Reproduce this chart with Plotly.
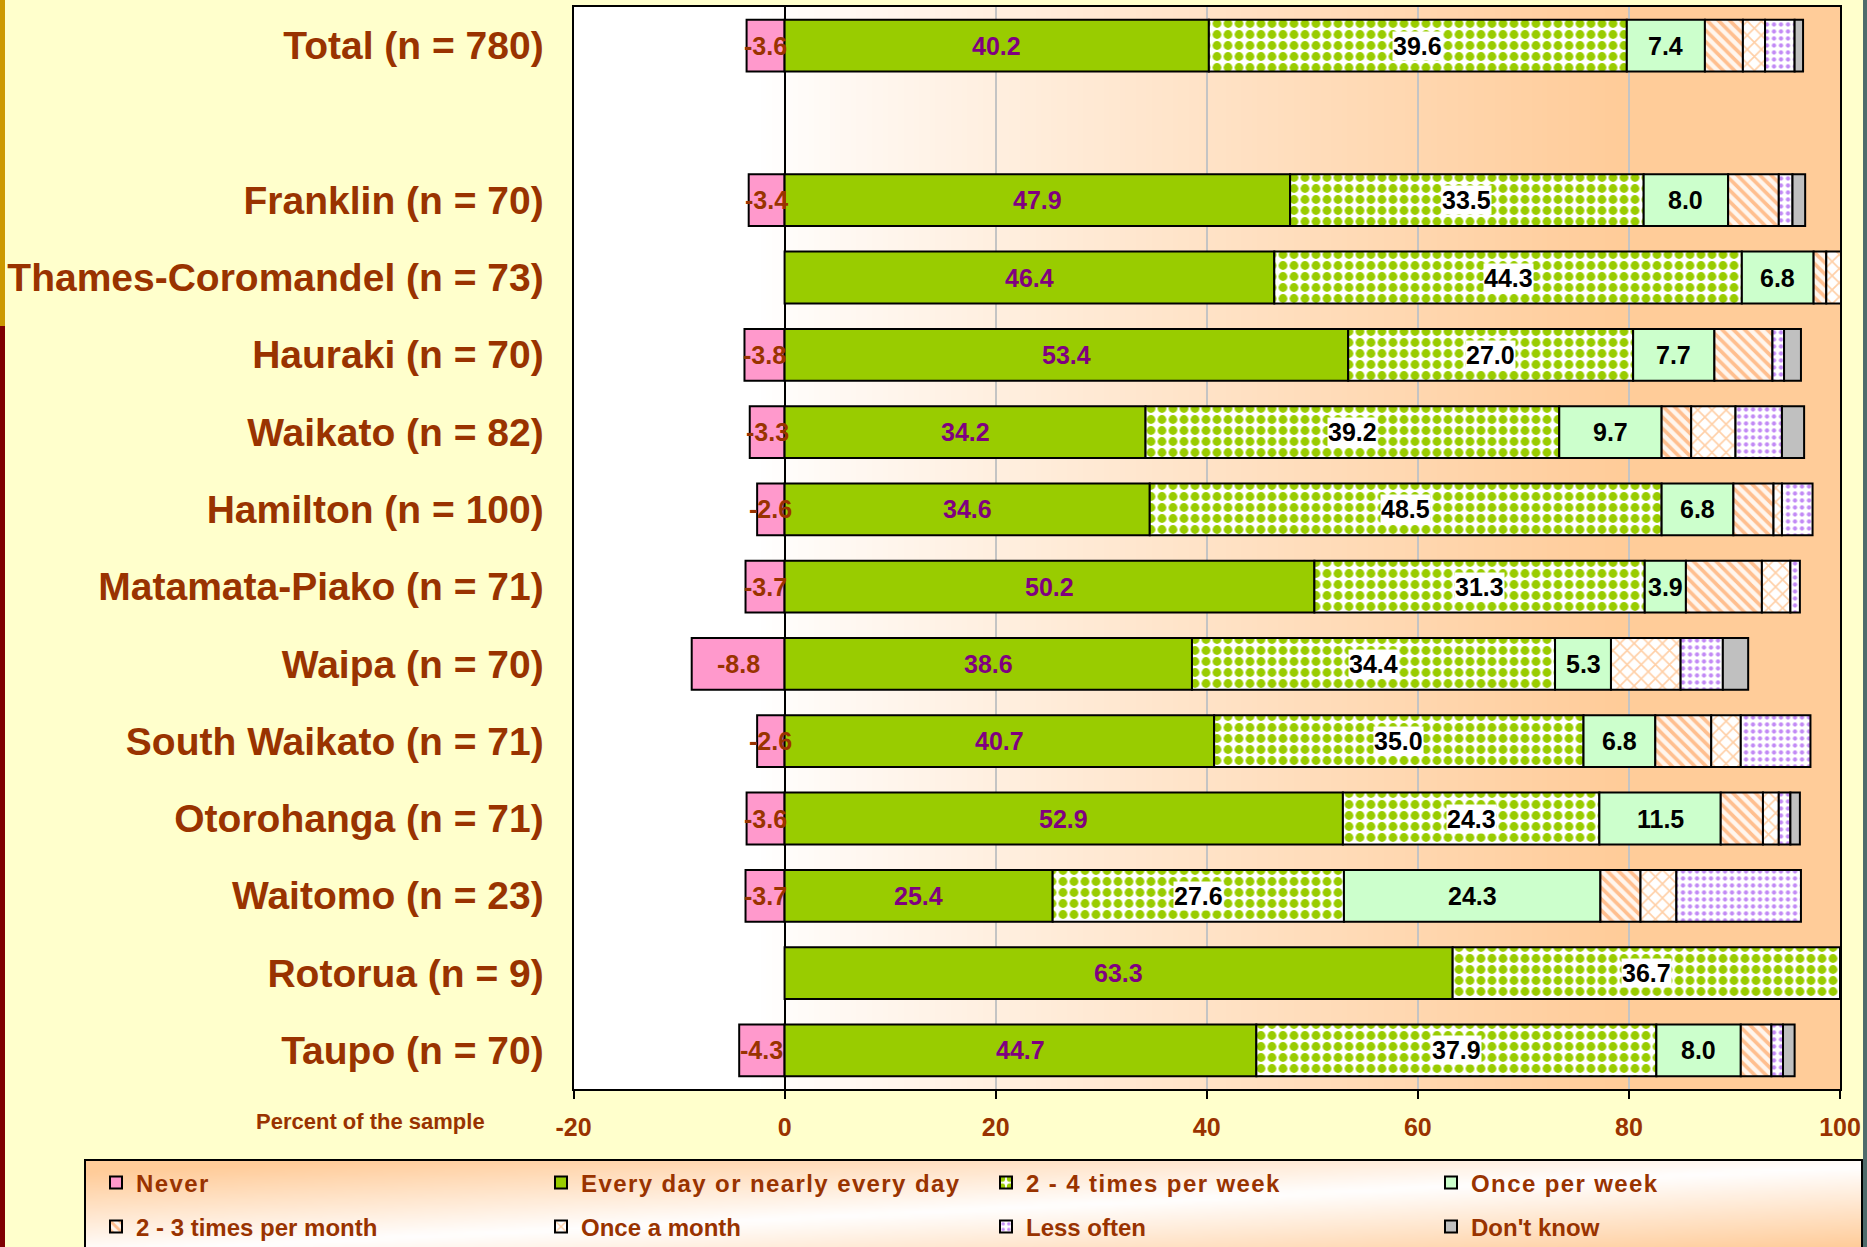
import base64
import struct
import zlib

import plotly.graph_objects as go

# ---------------- data ----------------
categories = [
    "Total (n = 780)", " ", "Franklin (n = 70)", "Thames-Coromandel (n = 73)",
    "Hauraki (n = 70)", "Waikato (n = 82)", "Hamilton (n = 100)",
    "Matamata-Piako (n = 71)", "Waipa (n = 70)", "South Waikato (n = 71)",
    "Otorohanga (n = 71)", "Waitomo (n = 23)", "Rotorua (n = 9)", "Taupo (n = 70)",
]
never = [3.6, None, 3.4, 0, 3.8, 3.3, 2.6, 3.7, 8.8, 2.6, 3.6, 3.7, 0, 4.3]
every_day = [40.2, None, 47.9, 46.4, 53.4, 34.2, 34.6, 50.2, 38.6, 40.7, 52.9, 25.4, 63.3, 44.7]
two_four_week = [39.6, None, 33.5, 44.3, 27.0, 39.2, 48.5, 31.3, 34.4, 35.0, 24.3, 27.6, 36.7, 37.9]
once_week = [7.4, None, 8.0, 6.8, 7.7, 9.7, 6.8, 3.9, 5.3, 6.8, 11.5, 24.3, 0, 8.0]
two_three_month = [3.6, None, 4.8, 1.2, 5.5, 2.8, 3.8, 7.2, 0, 5.3, 4.0, 3.8, 0, 2.9]
once_month = [2.1, None, 0, 1.4, 0, 4.2, 0.8, 2.7, 6.6, 2.8, 1.5, 3.4, 0, 0]
less_often = [2.8, None, 1.3, 0, 1.1, 4.4, 2.9, 0.9, 4.0, 6.6, 1.1, 11.8, 0, 1.1]
dont_know = [0.8, None, 1.2, 0, 1.6, 2.1, 0, 0, 2.4, 0, 0.9, 0, 0, 1.1]

series_names = [
    "Never", "Every day or nearly every day", "2 - 4 times per week", "Once per week",
    "2 - 3 times per month", "Once a month", "Less often", "Don't know",
]
x_ticks = [-20, 0, 20, 40, 60, 80, 100]
x_tick_text = ["-20", "0", "20", "40", "60", "80", "100"]
x_title = "Percent of the sample"

# ---------------- helpers ----------------
W, H = 1867, 1247
FONT = "Liberation Sans, Arial, sans-serif"
BROWN = "#993300"


def png_uri(w, h, fn):
    raw = bytearray()
    for j in range(h):
        raw.append(0)
        for i in range(w):
            r, g, b = fn(i / (w - 1), j / (h - 1))
            raw += bytes((int(r), int(g), int(b)))

    def chunk(tag, data):
        c = struct.pack(">I", len(data)) + tag + data
        return c + struct.pack(">I", zlib.crc32(tag + data) & 0xFFFFFFFF)

    png = (b"\x89PNG\r\n\x1a\n"
           + chunk(b"IHDR", struct.pack(">IIBBBBB", w, h, 8, 2, 0, 0, 0))
           + chunk(b"IDAT", zlib.compress(bytes(raw), 9))
           + chunk(b"IEND", b""))
    return "data:image/png;base64," + base64.b64encode(png).decode()


def clamp(v):
    return max(0.0, min(1.0, v))


PEACH = (255, 204, 153)


def mix(t):
    return tuple(255 + (p - 255) * t for p in PEACH)


def plot_grad(u, v):
    val = -20 + 120 * u
    return mix(clamp((val + 2) / 82.0) ** 0.9)


def legend_grad(u, v):
    line = 0.95 - 0.9 * u
    return mix(clamp(abs(v - line) / 0.85))


def clean(vals, sign=1):
    return [None if (v is None or v == 0) else sign * v for v in vals]


# plot-area geometry (paper fractions)
xd = [573.5 / W, 1840 / W]
yd = [(H - 1089) / H, (H - 7) / H]

fig = go.Figure()

styles = [
    dict(color="#FF99CC"),
    dict(color="#99CC00"),
    dict(color="#FFFFFF", pattern=dict(shape=".", fgcolor="#99CC00", bgcolor="#FFFFFF",
                                        size=11, solidity=0.5, fillmode="replace")),
    dict(color="#CCFFCC"),
    dict(color="#FFFFFF", pattern=dict(shape="\\", fgcolor="#FFBF8F", bgcolor="#FFF6EE",
                                        size=8, solidity=0.45, fillmode="replace")),
    dict(color="#FFFFFF", pattern=dict(shape="x", fgcolor="#FFCFA6", bgcolor="#FFFFFF",
                                        size=10, solidity=0.3, fillmode="replace")),
    dict(color="#FFFFFF", pattern=dict(shape=".", fgcolor="#C28AF5", bgcolor="#FFFFFF",
                                        size=7, solidity=0.3, fillmode="replace")),
    dict(color="#C0C0C0"),
]
all_series = [clean(never, -1), clean(every_day), clean(two_four_week), clean(once_week),
              clean(two_three_month), clean(once_month), clean(less_often), clean(dont_know)]

for k, (name, vals, st) in enumerate(zip(series_names, all_series, styles)):
    marker = dict(st)
    marker["line"] = dict(color="#000000", width=2)
    fig.add_trace(go.Bar(
        y=categories, x=vals, orientation="h", name=name, marker=marker,
        legend="legend" if k < 4 else "legend2", hoverinfo="x+name",
    ))

# value labels
ann = []
lab_font = dict(family=FONT, size=25, weight=700)
for i, cat in enumerate(categories):
    if every_day[i] is None:
        continue
    if never[i]:
        ann.append(dict(x=-never[i] / 2, y=cat, text=f"-{never[i]:.1f}", showarrow=False,
                        font=dict(lab_font, color=BROWN)))
    if every_day[i]:
        ann.append(dict(x=every_day[i] / 2, y=cat, text=f"{every_day[i]:.1f}", showarrow=False,
                        font=dict(lab_font, color="#800080")))
    if two_four_week[i]:
        ann.append(dict(x=every_day[i] + two_four_week[i] / 2, y=cat,
                        text=f"{two_four_week[i]:.1f}", showarrow=False,
                        bgcolor="#FFFFFF", borderpad=0,
                        font=dict(lab_font, color="#000000")))
    if once_week[i] and once_week[i] >= 3:
        ann.append(dict(x=every_day[i] + two_four_week[i] + once_week[i] / 2, y=cat,
                        text=f"{once_week[i]:.1f}", showarrow=False,
                        font=dict(lab_font, color="#000000")))

ann.append(dict(x=370 / W, y=(H - 1121) / H, xref="paper", yref="paper", text=x_title,
                xanchor="center", yanchor="middle", showarrow=False,
                font=dict(family=FONT, size=22, weight=700, color=BROWN)))

shapes = [
    dict(type="rect", xref="paper", yref="paper", x0=0, x1=5 / W, y0=(H - 326) / H, y1=1,
         fillcolor="#CC9900", line=dict(width=0)),
    dict(type="rect", xref="paper", yref="paper", x0=0, x1=5 / W, y0=0, y1=(H - 326) / H,
         fillcolor="#800000", line=dict(width=0)),
    dict(type="rect", xref="paper", yref="paper", x0=1863 / W, x1=1, y0=0, y1=1,
         fillcolor="#4F6B6B", line=dict(width=0)),
    dict(type="rect", xref="paper", yref="paper", x0=85 / W, x1=1862 / W,
         y0=-0.01, y1=(H - 1160) / H, fillcolor="rgba(0,0,0,0)",
         line=dict(color="#000000", width=2)),
]

images = [
    dict(source=png_uri(240, 2, plot_grad), xref="paper", yref="paper",
         x=xd[0], y=yd[1], sizex=xd[1] - xd[0], sizey=yd[1] - yd[0],
         xanchor="left", yanchor="top", sizing="stretch", layer="below"),
    dict(source=png_uri(200, 24, legend_grad), xref="paper", yref="paper",
         x=85 / W, y=(H - 1160) / H, sizex=(1862 - 85) / W, sizey=(1247 - 1160) / H + 0.01,
         xanchor="left", yanchor="top", sizing="stretch", layer="below"),
]

leg_common = dict(orientation="h", bgcolor="rgba(0,0,0,0)", borderwidth=0,
                  font=dict(family=FONT, size=24, weight=700, color=BROWN),
                  entrywidth=400, entrywidthmode="pixels", xanchor="left", yanchor="middle",
                  traceorder="normal")

fig.update_layout(
    template="none",
    width=W, height=H, autosize=False,
    margin=dict(l=0, r=0, t=0, b=0, pad=0, autoexpand=False),
    paper_bgcolor="#FFFFCC", plot_bgcolor="rgba(0,0,0,0)",
    barmode="relative", bargap=0.33,
    font=dict(family=FONT, color=BROWN),
    xaxis=dict(domain=xd, range=[-20, 100], tickvals=x_ticks, ticktext=x_tick_text,
               ticks="outside", ticklen=8,
               tickwidth=2, tickcolor="#000000", showgrid=True, gridcolor="#C4C4C4",
               gridwidth=1.5, zeroline=True, zerolinecolor="#000000", zerolinewidth=2,
               showline=True, mirror=True, linecolor="#000000", linewidth=2,
               tickfont=dict(family=FONT, size=25, weight=700, color=BROWN),
               ticklabelstandoff=7, automargin=False, fixedrange=True),
    yaxis=dict(domain=yd, type="category", categoryorder="array", categoryarray=categories,
               autorange="reversed", showgrid=False, zeroline=False, ticks="",
               showline=True, mirror=True, linecolor="#000000", linewidth=2,
               tickfont=dict(family=FONT, size=39, weight=700, color=BROWN),
               ticklabelstandoff=20, automargin=False, fixedrange=True),
    legend=dict(leg_common, x=96 / W, y=(H - 1183) / H),
    legend2=dict(leg_common, x=96 / W, y=(H - 1227) / H),
    annotations=ann, shapes=shapes, images=images,
    showlegend=True,
)

fig.write_html(
    "out.html", config={"displayModeBar": False},
    post_script=(
        "document.body.style.margin='0';document.body.style.overflow='hidden';"
        "var s=document.createElement('style');"
        "s.textContent='.legendtext{letter-spacing:1.4px}';"
        "document.head.appendChild(s);"
    ),
)
